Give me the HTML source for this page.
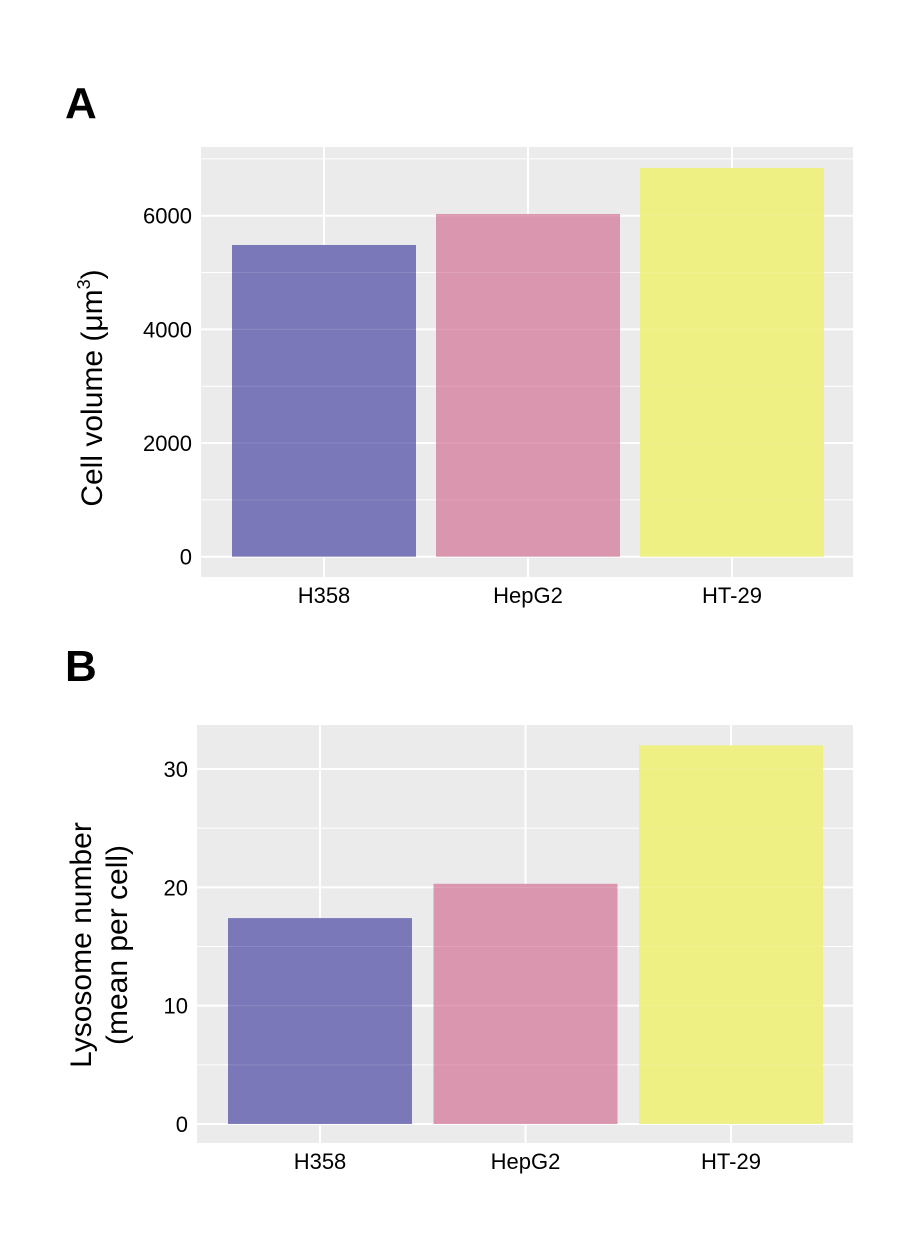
<!DOCTYPE html>
<html><head><meta charset="utf-8"><style>
body{margin:0;background:#fff;}
svg{display:block;font-family:"Liberation Sans",Arial,sans-serif;}
</style></head><body>
<svg id="fig" width="912" height="1236" viewBox="0 0 912 1236">
<text x="65" y="118" font-size="44" font-weight="bold">A</text>
<text x="65" y="681" font-size="44" font-weight="bold">B</text>
<g id="pa"></g>
<g id="pb"></g>
</svg>
<script>
const categories = ["H358","HepG2","HT-29"];
const volumeValues = [5485, 6030, 6840];
const lysosomeValues = [17.4, 20.3, 32.0];
const volumeTicks = [0,2000,4000,6000];
const volumeMinor = [1000,3000,5000,7000];
const lysosomeTicks = [0,10,20,30];
const lysosomeMinor = [5,15,25];
const colors = ["#7a78b8","#db96af","#eef083"];
const NS="http://www.w3.org/2000/svg";
function mk(tag,attrs,parent){const e=document.createElementNS(NS,tag);for(const k in attrs)e.setAttribute(k,attrs[k]);parent.appendChild(e);return e;}

function drawPanel(g,cfg,values,ticks,minor,name){
  const {x0,x1,y0,y1,zeroY,refVal,refY,c0,step,bw}=cfg;
  const y=v=>zeroY-(zeroY-refY)*v/refVal;
  const xc=i=>c0+i*step;
  const bg=mk('rect',{x:x0,y:y0,width:x1-x0,height:y1-y0,fill:'#ebebeb'},g);
  
  
  minor.forEach(v=>{const l=mk('line',{x1:x0,x2:x1,y1:y(v),y2:y(v),stroke:'#fff','stroke-width':1},g);
    
    });
  ticks.forEach(v=>{const l=mk('line',{x1:x0,x2:x1,y1:y(v),y2:y(v),stroke:'#fff','stroke-width':2},g);
    
    
    const t=mk('text',{x:x0-9,y:y(v)+8,'font-size':22,'text-anchor':'end',fill:'#000'},g);t.textContent=v;
    
    });
  categories.forEach((c,i)=>{const l=mk('line',{x1:xc(i),x2:xc(i),y1:y0,y2:y1,stroke:'#fff','stroke-width':2},g);
    
    });
  values.forEach((v,i)=>{const r=mk('rect',{x:xc(i)-bw/2,y:y(v),width:bw,height:zeroY-y(v),fill:colors[i]},g);
    
    
    const t=mk('text',{x:xc(i),y:y1+26,'font-size':22,'text-anchor':'middle',fill:'#000'},g);t.textContent=categories[i];
    
    });
  [...minor,...ticks].forEach(v=>{const l=mk('line',{x1:x0,x2:x1,y1:y(v),y2:y(v),stroke:'#fff','stroke-width':1,'stroke-opacity':0.12},g);
    
    });
}
drawPanel(document.getElementById('pa'),{x0:201,x1:853,y0:147,y1:577,zeroY:556.7,refVal:6000,refY:215.7,c0:324,step:204,bw:184},volumeValues,volumeTicks,volumeMinor,'panel-a');
drawPanel(document.getElementById('pb'),{x0:197,x1:853,y0:725,y1:1143,zeroY:1124,refVal:30,refY:769,c0:320,step:205.5,bw:184},lysosomeValues,lysosomeTicks,lysosomeMinor,'panel-b');
</script>
<script>
const fig=document.getElementById('fig');
const ya=document.createElementNS(NS,'text');
ya.setAttribute('transform','translate(102,388) rotate(-90)');
ya.setAttribute('text-anchor','middle');ya.setAttribute('font-size','30');
ya.innerHTML='Cell volume (μm<tspan font-size="18" dy="-12">3</tspan><tspan dy="12">)</tspan>';


fig.appendChild(ya);
const yb=document.createElementNS(NS,'text');
yb.setAttribute('transform','translate(91,945) rotate(-90)');
yb.setAttribute('text-anchor','middle');yb.setAttribute('font-size','30');
yb.innerHTML='<tspan x="0" dy="0">Lysosome number</tspan><tspan x="0" dy="36">(mean per cell)</tspan>';


fig.appendChild(yb);
</script>
</body></html>
